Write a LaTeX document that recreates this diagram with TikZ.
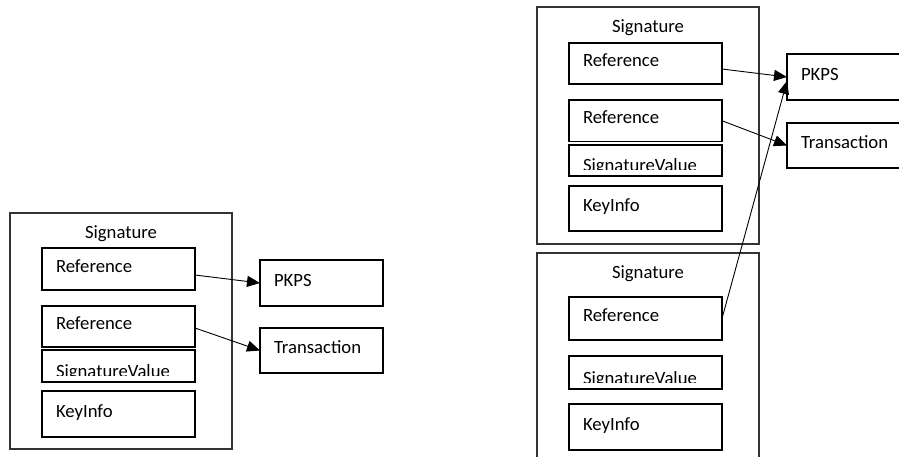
\documentclass[tikz,border=0pt]{standalone}
\usepackage{fontspec}
\setmainfont{Carlito}
\usetikzlibrary{arrows.meta}

\tikzset{
  every node/.style={font=\fontsize{18.7}{22}\selectfont, outer sep=0pt},
  outerbox/.style={draw=black!80, line width=1.2pt, anchor=north west, minimum width=222pt, inner sep=0pt},
  box/.style={draw=black, line width=1.1pt, anchor=north west, inner xsep=14pt, inner ysep=0pt,
              text width=125pt, align=left, text height=12pt, text depth=6pt},
  sidebox/.style={box, text width=95pt},
  sigval/.style={draw=black, line width=1.1pt, anchor=north west, minimum width=153pt, inner sep=0pt,
    path picture={
      \clip (path picture bounding box.north west) rectangle ([yshift=6.5pt]path picture bounding box.south east);
      \node[draw=none, minimum width=0pt, minimum height=0pt, anchor=base west, inner sep=0pt]
        at ([xshift=14pt,yshift=5pt]path picture bounding box.south west) {SignatureValue};
    }},
  link/.style={draw=black, line width=0.9pt, -{Triangle[length=13pt,width=11pt]}},
  title/.style={anchor=base, inner sep=0pt}
}

\begin{document}
\begin{tikzpicture}[x=1pt, y=-1pt]
\clip (0,0) rectangle (899,456);
\fill[white] (0,0) rectangle (899,456);

% ---- single signature ----
\node[outerbox, minimum height=236pt] (sigA) at (10,213) {};
\node[title] (sigAt) at ([yshift=-25pt]sigA.north) {Signature};
\node[box, minimum height=42pt] (refA1) at (42,248) {Reference};
\node[box, minimum height=41pt] (refA2) at (42,306) {Reference};
\node[sigval, minimum height=32pt] (svA) at (42,350) {};
\node[box, minimum height=46pt] (kiA) at (42,391) {KeyInfo};
\node[sidebox, minimum height=46pt] (pkpsA) at (260,260) {PKPS};
\node[sidebox, minimum height=45pt] (trA) at (260,328) {Transaction};

\draw[link] ([yshift=-6pt]refA1.east) -- (pkpsA.west);
\draw[link] ([yshift=-1.5pt]refA2.east) -- (trA.west);

% ---- two signatures ----
\node[outerbox, minimum height=237pt] (sigB) at (537,7) {};
\node[title] (sigBt) at ([yshift=-25pt]sigB.north) {Signature};
\node[box, minimum height=41pt] (refB1) at (569,43) {Reference};
\node[box, minimum height=41.5pt] (refB2) at (569,100) {Reference};
\node[sigval, minimum height=31pt] (svB) at (569,145) {};
\node[box, minimum height=45pt] (kiB) at (569,186) {KeyInfo};
\node[sidebox, minimum height=46pt] (pkpsB) at (787,54) {PKPS};
\node[sidebox, minimum height=45pt] (trB) at (787,123) {Transaction};

\node[outerbox, minimum height=260pt] (sigC) at (537,253) {};
\node[title] (sigCt) at ([yshift=-25pt]sigC.north) {Signature};
\node[box, minimum height=43pt] (refC) at (569,297) {Reference};
\node[sigval, minimum height=33pt] (svC) at (569,356) {};
\node[box, minimum height=46pt] (kiC) at (569,404) {KeyInfo};

\draw[link] ([yshift=-5.5pt]refB1.east) -- (pkpsB.west);
\draw[link] (refB2.east) -- (trB.west);
\draw[link] (refC.east) -- ([yshift=-4pt]pkpsB.west);
\end{tikzpicture}
\end{document}
